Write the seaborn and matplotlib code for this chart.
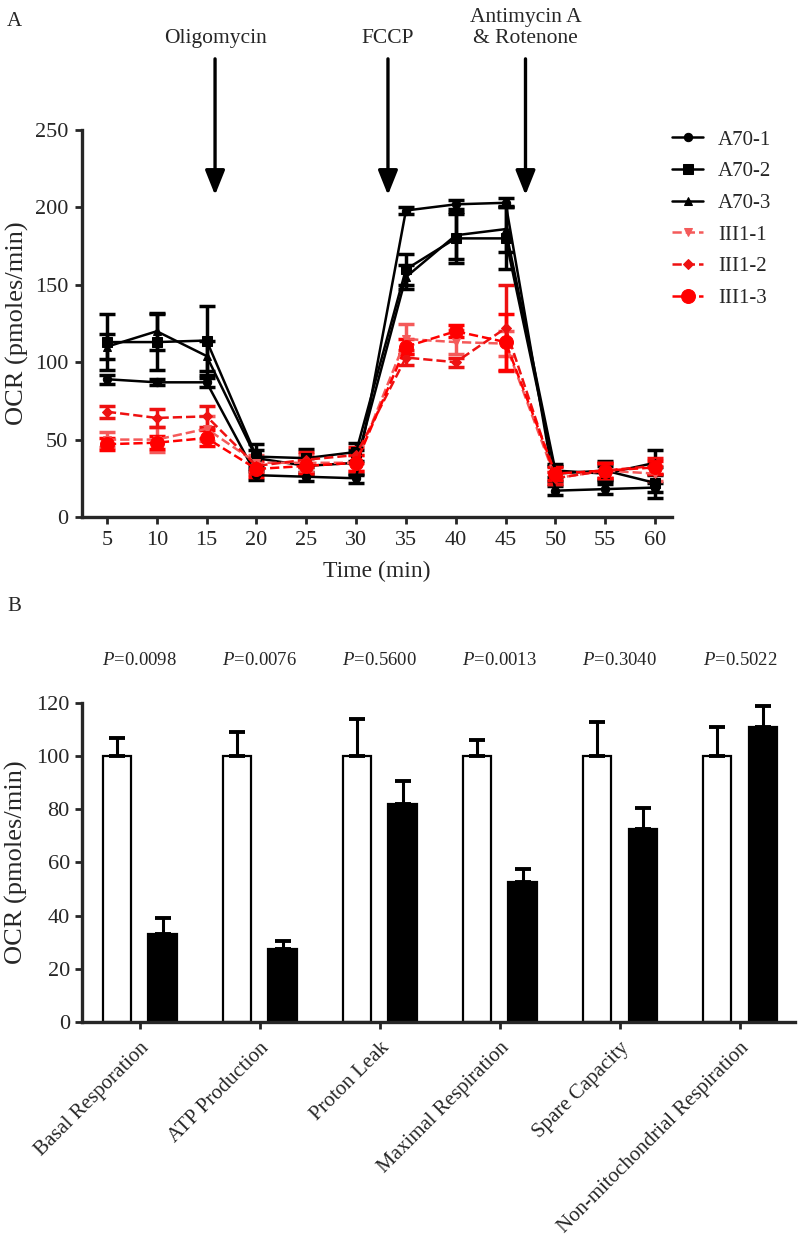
import numpy as np
import pandas as pd
import seaborn as sns
import matplotlib.pyplot as plt
from matplotlib.transforms import ScaledTranslation

# ---- panel A data ----
time = [5, 10, 15, 20, 25, 30, 35, 40, 45, 50, 55, 60]
a70_1 = [89, 87, 87, 27, 26, 25, 198, 202, 203, 17, 18, 19]
a70_2 = [113, 113, 114, 39, 38, 42, 160, 180, 180, 28, 30, 22]
a70_3 = [110, 120, 104, 38, 33, 35, 155, 182, 186, 30, 28, 35]
iii1_1 = [50, 50, 57, 35, 35, 35, 115, 113, 112, 25, 30, 28]
iii1_2 = [68, 64, 65, 33, 37, 40, 103, 100, 122, 25, 30, 33]
iii1_3 = [47, 48, 51, 31, 33, 35, 110, 120, 113, 28, 30, 32]
a70_1_err = [3, 2, 3, 3, 3, 3, 2, 3, 3, 3, 3, 3]
a70_2_err = [18, 18, 22, 8, 6, 6, 10, 16, 20, 5, 6, 10]
a70_3_err = [8, 12, 10, 5, 5, 8, 8, 15, 15, 4, 5, 8]
iii1_1_err = [5, 8, 8, 5, 6, 5, 10, 8, 8, 4, 5, 5]
iii1_2_err = [4, 6, 7, 5, 5, 5, 5, 3, 28, 4, 5, 5]
iii1_3_err = [4, 4, 5, 5, 5, 5, 5, 4, 18, 4, 5, 4]
series_names = ['A70-1', 'A70-2', 'A70-3', 'III1-1', 'III1-2', 'III1-3']

# ---- panel B data ----
measures = ['Basal Resporation', 'ATP Production', 'Proton Leak',
            'Maximal Respiration', 'Spare Capacity', 'Non-mitochondrial Respiration']
ctrl_vals = [100, 100, 100, 100, 100, 100]
ctrl_err = [7, 9, 14, 6, 13, 11]
mut_vals = [33, 27.5, 82, 52.5, 72.5, 111]
mut_err = [6, 3, 8.5, 5, 8, 8]
pvals = ['0.0098', '0.0076', '0.5600', '0.0013', '0.3040', '0.5022']

sns.set_theme(style="ticks")
plt.rcParams['font.family'] = ['Liberation Serif', 'DejaVu Serif']
plt.rcParams['mathtext.fontset'] = 'custom'
plt.rcParams['mathtext.it'] = 'Liberation Serif:italic'
plt.rcParams['mathtext.rm'] = 'Liberation Serif'

fig = plt.figure(figsize=(8, 12.35), dpi=100)

# ================= Panel A =================
axA = fig.add_axes([0.1025, 0.5814, 0.7375, 0.3133])
vals = [a70_1, a70_2, a70_3, iii1_1, iii1_2, iii1_3]
errs = [a70_1_err, a70_2_err, a70_3_err, iii1_1_err, iii1_2_err, iii1_3_err]
colors = ['black', 'black', 'black', '#f45a5a', '#ee1111', '#ff0000']
markers = ['o', 's', '^', 'v', 'D', 'o']
msizes = [6, 7, 6, 6, 5, 10]
lstyles = ['-', '-', '-', '--', '--', '--']

for name, v, e, c, m, ms, ls in zip(series_names, vals, errs, colors, markers, msizes, lstyles):
    axA.errorbar(time, v, yerr=e, fmt='none', ecolor=c, elinewidth=2.5,
                 capsize=5.5, capthick=2.5, zorder=2)
    sns.lineplot(x=time, y=v, ax=axA, color=c, marker=m, markersize=ms,
                 linestyle=ls, linewidth=1.8, markeredgecolor=c, label=name,
                 zorder=3)

axA.set_xlim(2.5, 61.7)
axA.set_ylim(0, 250)
axA.set_xticks(time)
axA.set_yticks([0, 50, 100, 150, 200, 250])
axA.set_xlabel('Time (min)', fontsize=17, labelpad=8)
axA.set_ylabel('OCR (pmoles/min)', fontsize=19, labelpad=4)
axA.tick_params(labelsize=16, width=2, length=5, pad=5)
for s in ['left', 'bottom']:
    axA.spines[s].set_linewidth(2.4)
sns.despine(ax=axA)

leg = axA.legend(loc='upper left', bbox_to_anchor=(1.0, 1.0), frameon=False,
                 fontsize=15, handlelength=1.5, handletextpad=0.7,
                 labelspacing=0.58, borderpad=0, borderaxespad=0)

# injection arrows
arrows = [(15.85, 'Oligomycin'), (33.2, 'FCCP'), (47.0, 'Antimycin A\n& Rotenone')]
for xpos, lab in arrows:
    axA.annotate('', xy=(xpos, 208), xytext=(xpos, 296),
                 arrowprops=dict(arrowstyle='-|>,head_length=0.5,head_width=0.2',
                                 color='black', lw=2.4, mutation_scale=30,
                                 shrinkA=0, shrinkB=0),
                 annotation_clip=False)
    axA.text(xpos, 303, lab, ha='center', va='bottom', fontsize=15.5,
             linespacing=1.15, clip_on=False)

fig.text(0.009, 0.99, 'A', fontsize=15, va='top')

# ================= Panel B =================
axB = fig.add_axes([0.102, 0.1725, 0.892, 0.2583])
df = pd.DataFrame({
    'measure': measures * 2,
    'value': ctrl_vals + mut_vals,
    'group': ['A70'] * len(measures) + ['III1'] * len(measures),
})
sns.barplot(data=df, x='measure', y='value', hue='group', ax=axB,
            palette=['white', 'black'], edgecolor='black', linewidth=1.6,
            width=0.756, gap=0.378, legend=False, errorbar=None)

bars = sorted(axB.patches, key=lambda p: p.get_x())
bars = [p for p in bars if p.get_height() > 0]
all_err = []
for i in range(len(measures)):
    all_err += [ctrl_err[i], mut_err[i]]
for p, e in zip(bars, all_err):
    xc = p.get_x() + p.get_width() / 2
    axB.errorbar([xc], [p.get_height()], yerr=[[0], [e]], fmt='none',
                 ecolor='black', elinewidth=2.2, capsize=6, capthick=2.8, zorder=1)

for i, pv in enumerate(pvals):
    axB.text(i, 136, r'$P$' + '=' + pv, ha='center', va='center', fontsize=13.5,
             clip_on=False)

axB.set_xlim(-0.485, 5.46)
axB.set_ylim(0, 120)
axB.set_yticks([0, 20, 40, 60, 80, 100, 120])
axB.set_xlabel('')
axB.set_ylabel('OCR (pmoles/min)', fontsize=19, labelpad=6)
axB.set_xticks(range(len(measures)))
axB.set_xticklabels(measures, rotation=45, ha='right', rotation_mode='anchor',
                    fontsize=15)
shift = ScaledTranslation(0.07, 0, fig.dpi_scale_trans)
for lab in axB.get_xticklabels():
    lab.set_transform(lab.get_transform() + shift)
axB.tick_params(axis='y', labelsize=16, width=2, length=5)
axB.tick_params(axis='x', width=2, length=5, pad=7)
for s in ['left', 'bottom']:
    axB.spines[s].set_linewidth(2.4)
sns.despine(ax=axB)

fig.text(0.009, 0.517, 'B', fontsize=15, va='top')

fig.savefig('out.png', dpi=100)
